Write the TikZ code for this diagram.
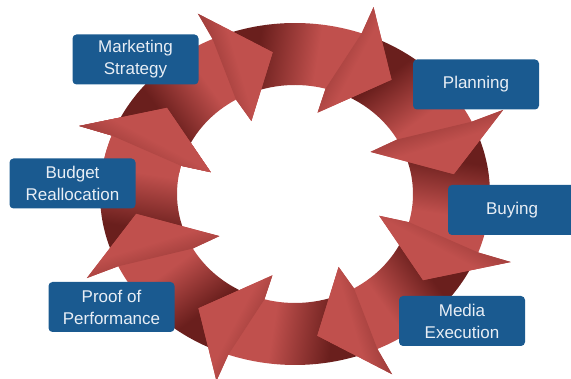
\documentclass[tikz,border=0pt]{standalone}
\usepackage{fontspec}
\setmainfont{Liberation Sans}
\usepackage{tikz}
\definecolor{ringRed}{HTML}{C0504D}
\definecolor{ringDark}{HTML}{6A1F1D}
\definecolor{boxBlue}{HTML}{1A5A90}
\definecolor{boxText}{HTML}{E8EEF5}
\pgfdeclarehorizontalshading{arcShade}{100bp}{color(0bp)=(ringDark); color(36bp)=(ringDark); color(54bp)=(ringRed); color(100bp)=(ringRed)}
\pgfdeclarehorizontalshading{headShade}{100bp}{color(0bp)=(ringDark!70!ringRed); color(25bp)=(ringDark!70!ringRed); color(52bp)=(ringRed); color(100bp)=(ringRed)}
% point on the ring: angle, radial fraction (0 inner edge, 1 outer edge)
\newcommand{\ringPt}[2]{({295+(118+77*(#2))*cos(#1)},{185+(109+62*(#2))*sin(#1)})}
% one curved arrow, #1 = angle of its barbs
\newcommand{\ringArrow}[1]{%
  \shade[shading=arcShade,shading angle={#1-79}]
    \ringPt{#1+44}{1} arc[start angle={#1+44},end angle={#1},x radius=195,y radius=171]
    -- \ringPt{#1}{1.45} -- \ringPt{#1-17}{0.55} -- \ringPt{#1+5}{-0.4} -- \ringPt{#1+5}{0}
    arc[start angle={#1+5},end angle={#1+44},x radius=118,y radius=109] -- cycle;
  \shade[shading=headShade,shading angle={#1-98}]
    \ringPt{#1}{1} -- \ringPt{#1}{1.45} -- \ringPt{#1-17}{0.55} -- \ringPt{#1+5}{-0.4}
    -- \ringPt{#1+5}{0} -- cycle;}

\begin{document}
\begin{tikzpicture}[x=1pt,y=1pt,
  labelBox/.style={fill=boxBlue,rounded corners=4pt,minimum width=126pt,minimum height=50pt,
    text=boxText,align=center,inner sep=2pt,font=\fontsize{17}{22}\selectfont}]
\useasboundingbox (0,0) rectangle (571,379);
\foreach \b in {160,-155,-110,-65,-20,25,70,115} {\ringArrow{\b}}
% last head over the first tail
\begin{scope}
\clip (295,185) -- \ringPt{168}{2} -- \ringPt{130}{2} -- cycle;
\ringArrow{160}
\end{scope}
\node[labelBox] (strategy) at (135.5,319.5) {Marketing\\Strategy};
\node[labelBox] (planning) at (476,294.5) {Planning};
\node[labelBox,minimum width=128pt] (buying) at (512,169) {Buying};
\node[labelBox] (media) at (462,58) {Media\\Execution};
\node[labelBox] (proof) at (111.5,72) {Proof of\\Performance};
\node[labelBox] (budget) at (72.5,195.5) {Budget\\Reallocation};
\end{tikzpicture}
\end{document}
